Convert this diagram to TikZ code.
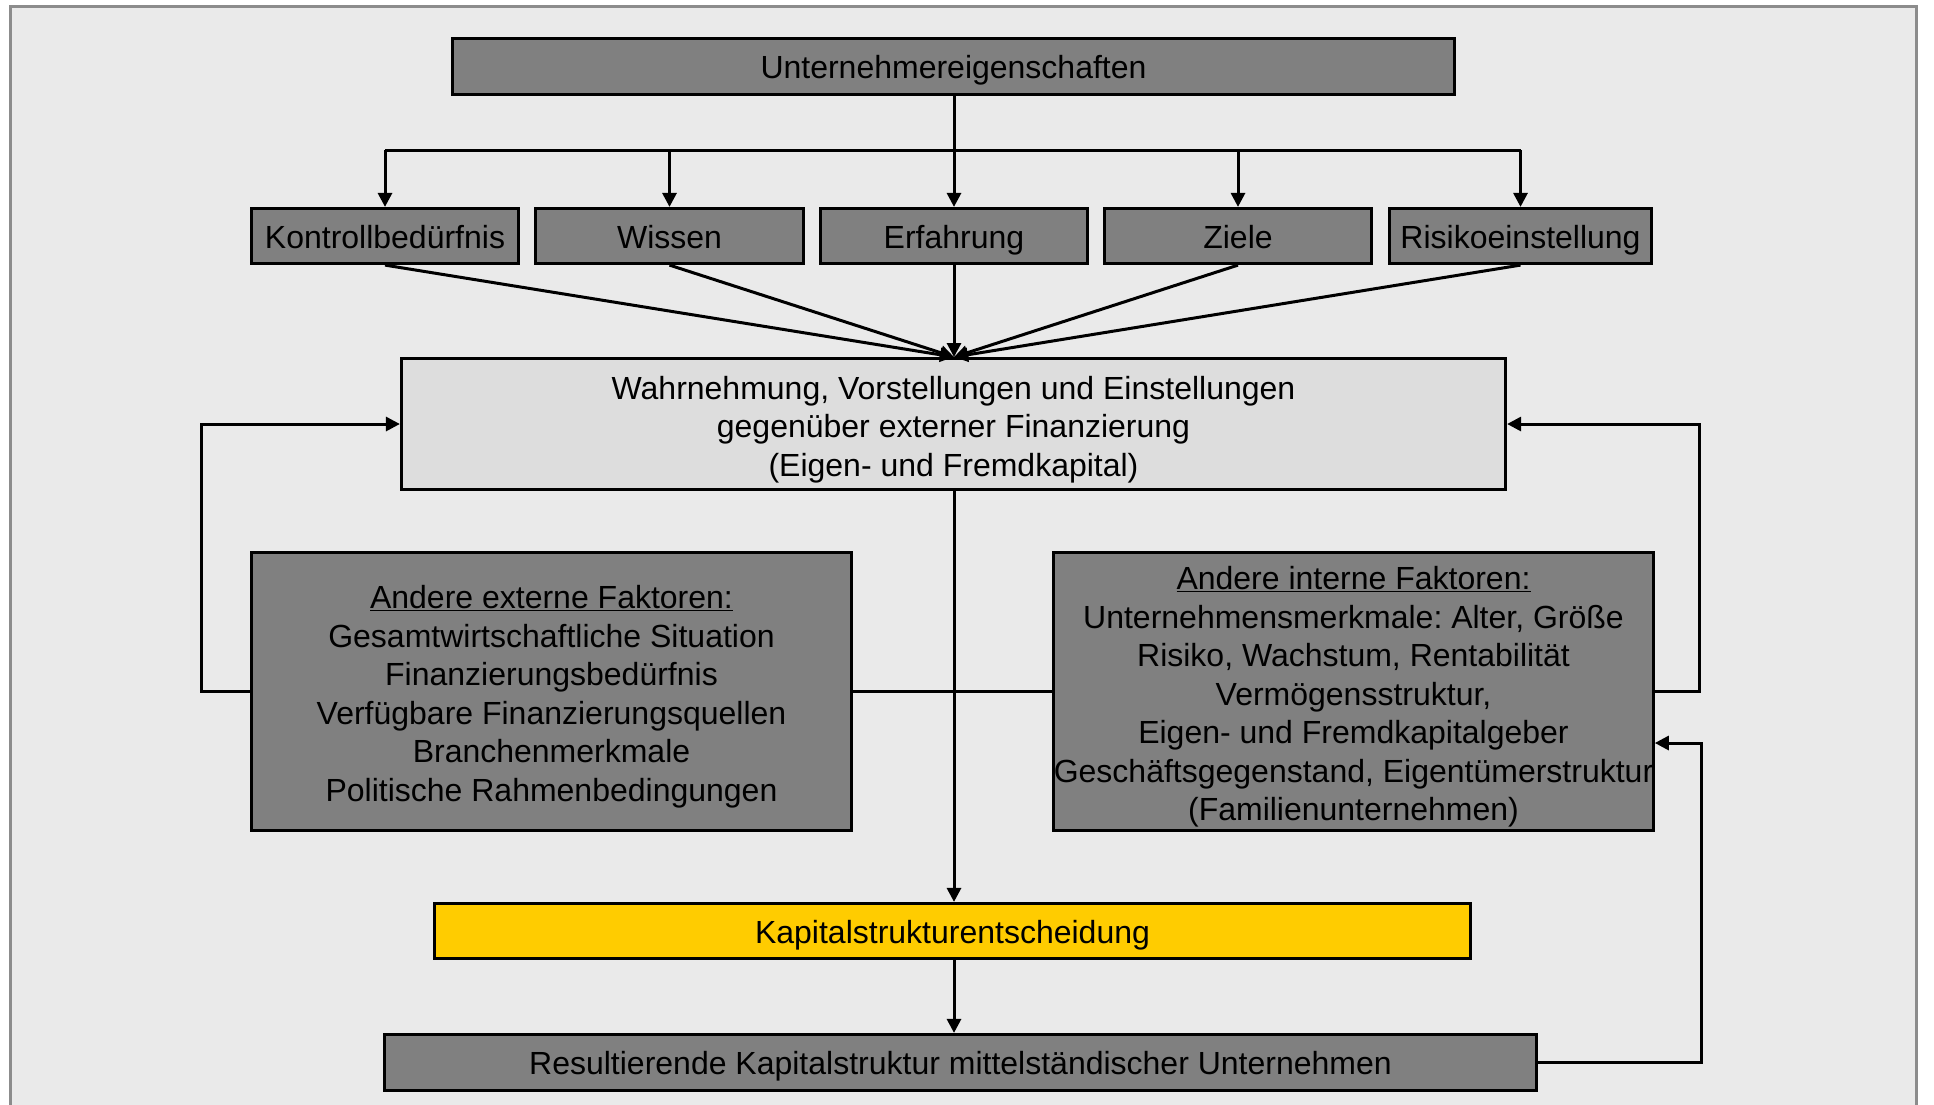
\documentclass[tikz,border=0pt]{standalone}
\usepackage{fontspec}
\setmainfont{Liberation Sans}
\usetikzlibrary{arrows.meta}
\frenchspacing
\definecolor{bggray}{HTML}{EAEAEA}
\definecolor{framegray}{HTML}{8C8C8C}
\definecolor{boxgray}{HTML}{808080}
\definecolor{lightbox}{HTML}{DDDDDD}
\definecolor{kapyellow}{HTML}{FFCC00}
\newcommand{\toppad}{\rule{0pt}{34pt}}
\tikzset{
  gbox/.style={draw=black, line width=3.2pt, fill=boxgray, inner sep=0pt, align=center,
    font=\fontsize{32}{38.5}\selectfont},
  sbox/.style={gbox, text height=28pt, text depth=4pt},
  lbox/.style={gbox, fill=lightbox},
  ybox/.style={sbox, fill=kapyellow},
  conn/.style={draw=black, line width=3pt},
  arr/.style={conn, -{Triangle[length=14pt,width=14pt]}},
}
\begin{document}
\begin{tikzpicture}[x=1pt,y=-1pt]
\useasboundingbox (0,0) rectangle (1934,1104);
\clip (0,0) rectangle (1934,1104);
\fill[white] (0,0) rectangle (1934,1104);
\draw[framegray, line width=3pt, fill=bggray] (10.5,6.5) rectangle (1916.5,1130);

% nodes
\node[sbox, minimum width=1002pt, minimum height=56pt] (top) at (953.5,66.5) {Unternehmereigenschaften};

\node[sbox, minimum width=267pt, minimum height=55pt] (kon) at (385,236) {Kontrollbedürfnis};
\node[sbox, minimum width=268pt, minimum height=55pt] (wis) at (669.5,236) {Wissen};
\node[sbox, minimum width=267pt, minimum height=55pt] (erf) at (954,236) {Erfahrung};
\node[sbox, minimum width=267pt, minimum height=55pt] (zie) at (1238,236) {Ziele};
\node[sbox, minimum width=262pt, minimum height=55pt] (ris) at (1520.5,236) {Risikoeinstellung};

\node[lbox, minimum width=1104pt, minimum height=131pt] (wahr) at (953.5,424)
  {\toppad Wahrnehmung, Vorstellungen und Einstellungen\\gegenüber externer Finanzierung\\(Eigen- und Fremdkapital)};

\node[gbox, minimum width=600pt, minimum height=278pt] (ext) at (551.5,691.5)
  {\toppad\underline{Andere externe Faktoren:}\\Gesamtwirtschaftliche Situation\\Finanzierungsbedürfnis\\Verfügbare Finanzierungsquellen\\Branchenmerkmale\\Politische Rahmenbedingungen};

\node[gbox, minimum width=596pt, minimum height=278pt] (int) at (1353.5,691.5)
  {\toppad\underline{Andere interne Faktoren:}\\Unternehmensmerkmale: Alter, Größe\\Risiko, Wachstum, Rentabilität\\Vermögensstruktur,\\Eigen- und Fremdkapitalgeber\\Geschäftsgegenstand, Eigentümerstruktur\\(Familienunternehmen)};

\node[ybox, minimum width=1036pt, minimum height=55pt] (kap) at (952.5,931) {Kapitalstrukturentscheidung};
\node[sbox, minimum width=1152pt, minimum height=56pt] (res) at (960.5,1062.5) {Resultierende Kapitalstruktur mittelständischer Unternehmen};

% branching from top
\coordinate (br) at (954,150);
\draw[conn] (erf.north |- top.south) -- (br);
\draw[conn] (br -| kon.north) -- (br -| ris.north);
\draw[arr] (br -| kon.north) -- (kon.north);
\draw[arr] (br -| wis.north) -- (wis.north);
\draw[arr] (br) -- (erf.north);
\draw[arr] (br -| zie.north) -- (zie.north);
\draw[arr] (br -| ris.north) -- (ris.north);

% convergence
\coordinate (conv) at (954,357);
\draw[arr] (kon.south) -- (conv);
\draw[arr] (wis.south) -- (conv);
\draw[arr] (erf.south) -- (conv);
\draw[arr] (zie.south) -- (conv);
\draw[arr] (ris.south) -- (conv);

% central axis
\draw[arr] (wahr.south -| erf.south) -- (kap.north -| erf.south);
\draw[conn] (ext.east) -- (int.west);
\draw[arr] (kap.south -| erf.south) -- (res.north -| erf.south);

% feedback loops
\draw[arr] (ext.west) -- ++(-48,0) |- (wahr.west);
\draw[arr] (int.east) -- ++(45,0) |- (wahr.east);
\coordinate (fbin) at (1701,743);
\draw[arr] (res.east) -| (fbin) -- (fbin -| int.east);
\end{tikzpicture}
\end{document}
